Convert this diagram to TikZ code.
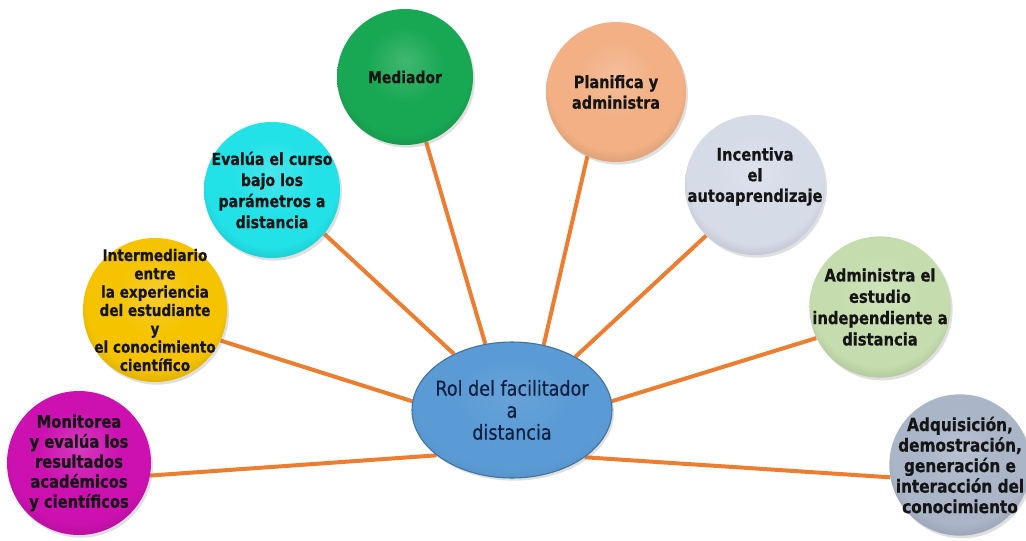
\documentclass[tikz,border=0pt]{standalone}
\usepackage{fontspec}
\setmainfont{DejaVu Sans}[FakeStretch=0.85, BoldFeatures={FakeBold=0.6}]
\newfontfamily\hubfont{DejaVu Sans}[FakeStretch=0.85, FakeBold=0.35]
\usetikzlibrary{shapes.geometric,shadows}

% palette
\definecolor{spokeorange}{HTML}{ED7D31}
\definecolor{inkdark}{HTML}{151515}
\definecolor{hubink}{HTML}{0F1F40}
\definecolor{hubfill}{HTML}{5B9BD5}
\definecolor{hubedge}{HTML}{41719C}
\definecolor{magentaball}{HTML}{CC11B0}
\definecolor{goldball}{HTML}{F5C300}
\definecolor{cyanball}{HTML}{22E2E8}
\definecolor{greenball}{HTML}{18A853}
\definecolor{peachball}{HTML}{F2B084}
\definecolor{lavball}{HTML}{D6DBE8}
\definecolor{sageball}{HTML}{C5DDAE}
\definecolor{slateball}{HTML}{AAB5C8}
\colorlet{ballin}{white}
\colorlet{ballmid}{gray}
\colorlet{ballout}{black}

% soft sphere look: light top, flat body, slightly darker rim
\pgfdeclareradialshading[ballin,ballmid,ballout]{sphere}{\pgfpoint{0bp}{6bp}}{%
  color(0bp)=(ballin); color(14bp)=(ballmid); color(24bp)=(ballmid);
  color(31bp)=(ballout); color(50bp)=(ballout)}

\pgfdeclarelayer{back}
\pgfdeclarelayer{spokes}
\pgfsetlayers{back,spokes,main}

\tikzset{
  % negative inner sep keeps the disc at its minimum size, letting long lines run past the rim
  bubble/.style={circle, inner sep=-30pt, align=center, text=inkdark,
    font=\bfseries\fontsize{13}{15}\selectfont,
    /utils/exec={\colorlet{ballmid}{#1}\colorlet{ballin}{#1!82!white}\colorlet{ballout}{#1!84!black}},
    shade, shading=sphere,
    drop shadow={shadow xshift=1.5pt, shadow yshift=-2pt, opacity=0.25, fill=black!50}},
  hub/.style={ellipse, inner sep=-20pt, minimum width=150pt, minimum height=102pt,
    align=center, text=hubink, font=\hubfont\fontsize{15.5}{16.5}\selectfont,
    /utils/exec={\colorlet{ballmid}{hubfill}\colorlet{ballin}{hubfill!92!white}\colorlet{ballout}{hubfill!92!black}},
    shade, shading=sphere, draw=hubedge, line width=0.8pt,
    drop shadow={shadow xshift=1.5pt, shadow yshift=-2pt, opacity=0.25, fill=black!50}},
  spoke/.style={draw=spokeorange, line width=3pt},
}

\begin{document}
\begin{tikzpicture}[x=0.75pt, y=-0.75pt]
  \begin{pgfonlayer}{back}
    \fill[white] (0,0) rectangle (1026,540);
  \end{pgfonlayer}
  \useasboundingbox (0,0) rectangle (1026,540);

  % central role
  \node[hub] (hub) at (512,410) {Rol del facilitador\\a\\distancia};

  % surrounding functions
  \node[bubble=magentaball, minimum size=108pt] (mon) at (79,463)
    {Monitorea\\y evalúa los\\resultados\\académicos\\y científicos};
  \node[bubble=goldball, minimum size=108pt, font=\bfseries\fontsize{12}{13.75}\selectfont] (int) at (155,310)
    {Intermediario\\entre\\la experiencia\\del estudiante\\y\\el conocimiento\\científico};
  \node[bubble=cyanball, minimum size=102pt, font=\bfseries\fontsize{12.5}{15.8}\selectfont] (eva) at (272,190)
    {Evalúa el curso\\bajo los\\parámetros a\\distancia};
  \node[bubble=greenball, minimum size=102pt, font=\bfseries\fontsize{12.3}{15}\selectfont] (med) at (405,77) {Mediador};
  \node[bubble=peachball, minimum size=105pt, font=\bfseries\fontsize{12.8}{15.5}\selectfont] (pla) at (616,92)
    {Planifica y\\administra};
  \node[bubble=lavball, minimum size=105pt, font=\bfseries\fontsize{13}{15.5}\selectfont] (inc) at (755,185)
    {Incentiva\\el\\autoaprendizaje\\\mbox{}};
  \node[bubble=sageball, minimum size=106pt, font=\bfseries\fontsize{13}{16}\selectfont] (adm) at (880,307)
    {Administra el\\estudio\\independiente a\\distancia};
  \node[bubble=slateball, minimum size=106pt, font=\bfseries\fontsize{13.5}{15.4}\selectfont] (adq) at (960,465)
    {Adquisición,\\demostración,\\generación e\\interacción del\\conocimiento};

  % spokes from the hub to every function
  \begin{pgfonlayer}{spokes}
    \draw[spoke] (mon.-10)  -- (hub.211);
    \draw[spoke] (int.-25)  -- (hub.175);
    \draw[spoke] (eva.-40)  -- (hub.136);
    \draw[spoke] (med.-72)  -- (hub.112);
    \draw[spoke] (pla.-114) -- (hub.64);
    \draw[spoke] (inc.-134) -- (hub.40);
    \draw[spoke] (adm.-154) -- (hub.5);
    \draw[spoke] (adq.190)  -- (hub.-33);
  \end{pgfonlayer}
\end{tikzpicture}
\end{document}
